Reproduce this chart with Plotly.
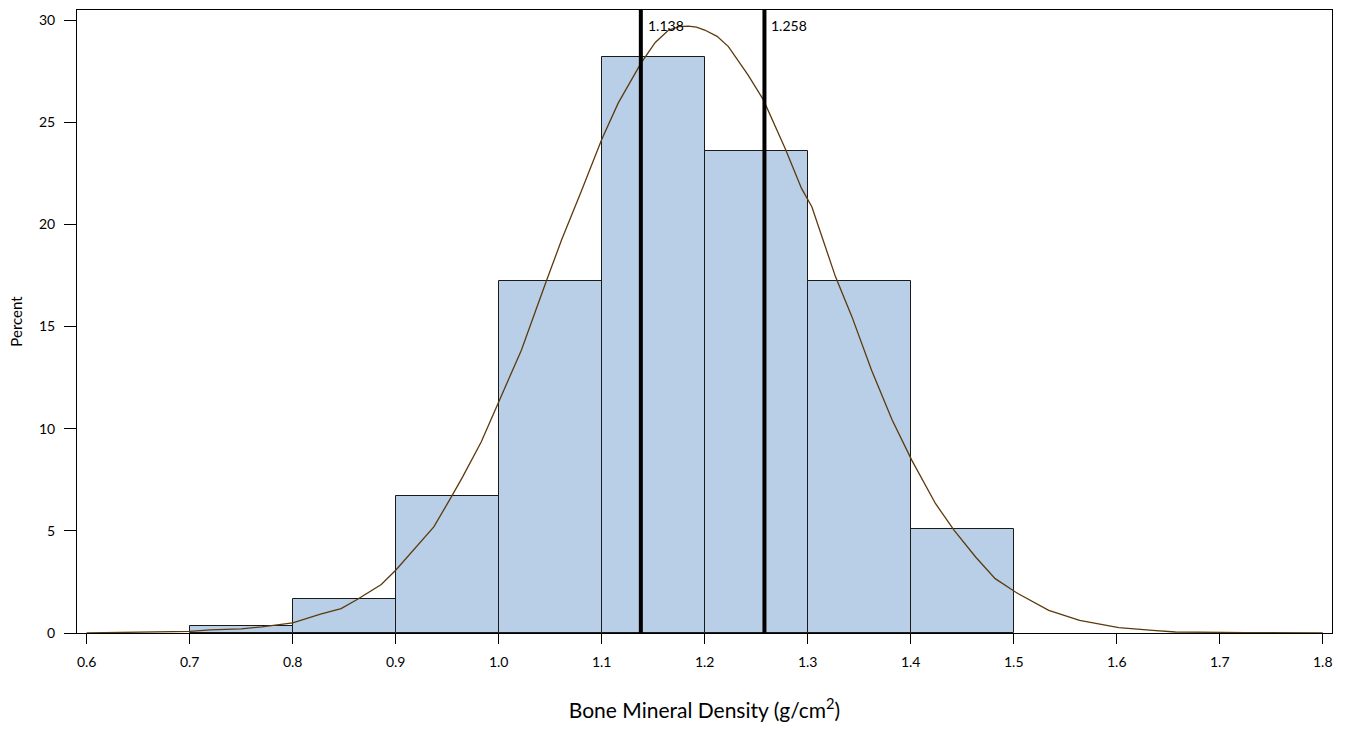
import plotly.graph_objects as go

# Histogram bins (left edges) and percents
bin_left = [0.7, 0.8, 0.9, 1.0, 1.1, 1.2, 1.3, 1.4]
bin_width = 0.1
bin_percent = [0.34, 1.65, 6.69, 17.22, 28.21, 23.6, 17.22, 5.11]

# Density curve
curve_x = [0.6, 0.65, 0.7, 0.72, 0.75, 0.77, 0.788, 0.8, 0.827, 0.847, 0.863, 0.886, 0.9,
           0.921, 0.937, 0.954, 0.965, 0.983, 1.002, 1.022, 1.046, 1.061, 1.08, 1.1,
           1.116, 1.138, 1.152, 1.165, 1.175, 1.184, 1.192, 1.2, 1.212, 1.223, 1.242, 1.257,
           1.278, 1.294, 1.304, 1.327, 1.343, 1.362, 1.382, 1.401, 1.424, 1.442, 1.463,
           1.482, 1.504, 1.534, 1.564, 1.602, 1.635, 1.657, 1.725, 1.8]
curve_y = [0.0, 0.03, 0.08, 0.15, 0.2, 0.3, 0.41, 0.5, 0.92, 1.19, 1.65, 2.37, 3.07,
           4.25, 5.19, 6.66, 7.64, 9.35, 11.56, 13.84, 17.19, 19.23, 21.6, 24.15,
           25.93, 27.88, 28.9, 29.51, 29.68, 29.7, 29.65, 29.51, 29.2, 28.7, 27.31, 26.09,
           23.72, 21.76, 20.86, 17.43, 15.47, 12.86, 10.42, 8.46, 6.34, 5.03, 3.72,
           2.66, 1.93, 1.11, 0.62, 0.26, 0.13, 0.05, 0.02, 0.0]

ref_values = [1.138, 1.258]
ref_labels = ["1.138", "1.258"]

x_ticks = [0.6, 0.7, 0.8, 0.9, 1.0, 1.1, 1.2, 1.3, 1.4, 1.5, 1.6, 1.7, 1.8]
x_ticktext = ["0.6", "0.7", "0.8", "0.9", "1.0", "1.1", "1.2", "1.3", "1.4", "1.5", "1.6", "1.7", "1.8"]
y_ticks = [0, 5, 10, 15, 20, 25, 30]

FONT = "Lato, 'Open Sans', sans-serif"

fig = go.Figure()
fig.add_trace(go.Bar(
    x=[l + bin_width / 2 for l in bin_left], y=bin_percent, width=bin_width,
    marker=dict(color="#b9cfe7", line=dict(color="#1a1a1a", width=1)),
    showlegend=False, hoverinfo="skip"))
fig.add_trace(go.Scatter(
    x=curve_x, y=curve_y, mode="lines",
    line=dict(color="#5b3a0c", width=1.3),
    showlegend=False, hoverinfo="skip"))

for v, lab in zip(ref_values, ref_labels):
    fig.add_shape(type="line", xref="x", yref="paper", x0=v, x1=v, y0=0, y1=1,
                  line=dict(color="black", width=4))
    fig.add_annotation(x=v, y=0.968, xref="x", yref="paper", text=lab,
                       showarrow=False, xanchor="left", yanchor="middle", xshift=5, yshift=4,
                       font=dict(family=FONT, size=14, color="black"))

fig.update_layout(
    width=1349, height=729,
    margin=dict(l=77, r=17, t=10, b=96),
    plot_bgcolor="white", paper_bgcolor="white",
    font=dict(family=FONT, size=14, color="black"),
    bargap=0,
)
fig.update_xaxes(
    range=[0.5906, 1.809], tickvals=x_ticks, ticktext=x_ticktext,
    ticks="outside", ticklen=10, tickcolor="black", tickwidth=1,
    showline=True, linecolor="black", linewidth=1, mirror=True,
    showgrid=False, zeroline=False, ticklabelstandoff=6,
    tickfont=dict(family=FONT, size=14),
    title=dict(text="Bone Mineral Density (g/cm<sup>2</sup>)",
               font=dict(family=FONT, size=21), standoff=34),
)
fig.update_yaxes(
    range=[0, 30.49], tickvals=y_ticks,
    ticks="outside", ticklen=12, tickcolor="black", tickwidth=1,
    showline=True, linecolor="black", linewidth=1, mirror=True,
    showgrid=False, zeroline=False, ticklabelstandoff=6,
    tickfont=dict(family=FONT, size=14),
    title=dict(text="Percent", font=dict(family=FONT, size=15), standoff=12),
)

fig.write_html("out.html")
